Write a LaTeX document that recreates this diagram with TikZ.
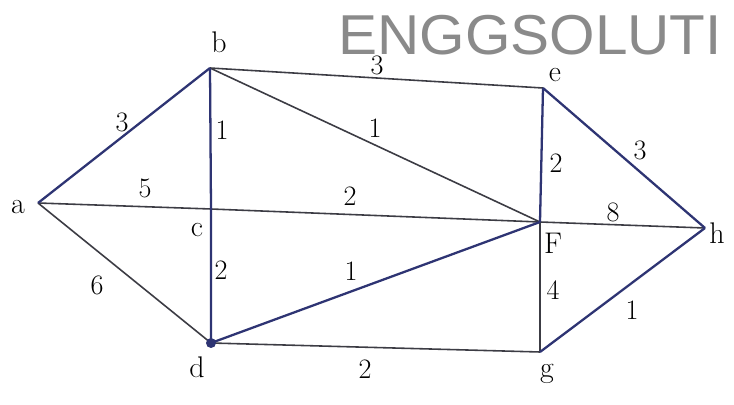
\documentclass[tikz,border=0pt]{standalone}
\usepackage{fontspec}
\newfontfamily\markfont{Liberation Sans}
\usetikzlibrary{positioning}
\definecolor{ink}{HTML}{2E3473}
\definecolor{pencil}{HTML}{3C3C44}
\definecolor{stamp}{HTML}{8A8A8A}
\tikzset{
  inkline/.style={draw=ink,line width=1.3pt},
  penline/.style={draw=pencil,line width=0.9pt},
  vname/.style={font=\fontsize{17}{19}\selectfont,text=black,inner sep=1pt},
  wt/.style={font=\fontsize{16}{18}\selectfont,text=black,inner sep=0.5pt}
}

\begin{document}
\begin{tikzpicture}[x=0.02cm,y=-0.02cm]
  \useasboundingbox[fill=white] (0,0) rectangle (734,405);
  \node[font=\markfont\fontsize{32}{34}\selectfont,text=stamp,anchor=base west,inner sep=0pt,xscale=1.04] (mark) at (338,55) {ENGGSOLUTI};

  \coordinate (a) at (38,203);
  \coordinate (b) at (210,68);
  \coordinate (c) at (211,209);
  \coordinate (d) at (211,343);
  \coordinate (e) at (543,88);
  \coordinate (F) at (540,222);
  \coordinate (g) at (540,352);
  \coordinate (h) at (705,228);

  \draw[penline] (a) -- (c) -- (F);
  \draw[penline] (a) -- (d);
  \draw[penline] (b) -- (e);
  \draw[penline] (b) -- (F);
  \draw[penline] (F) -- (h);
  \draw[penline] (d) -- (g);
  \draw[penline] (F) -- (g);
  \draw[inkline] (a) -- (b);
  \draw[inkline] (b) -- (c) -- (d);
  \draw[inkline] (d) -- (F);
  \draw[inkline] (e) -- (F);
  \draw[inkline] (e) -- (h);
  \draw[inkline] (g) -- (h);
  \fill[ink] (d) circle (5);

  \node[vname] (la) at (18,207) {a};
  \node[vname] (lb) at (219,42) {b};
  \node[vname] (lc) at (197,230) {c};
  \node[vname] (ld) at (197,367) {d};
  \node[vname] (le) at (555,75) {e};
  \node[vname] (lF) at (553,243) {F};
  \node[vname] (lg) at (547,374) {g};
  \node[vname] (lh) at (717,233) {h};

  \node[wt] (wab) at (122,122) {3};
  \node[wt] (wbc) at (222,130) {1};
  \node[wt] (wac) at (145,188) {5};
  \node[wt] (wcF) at (350,196) {2};
  \node[wt] (wad) at (97,285) {6};
  \node[wt] (wcd) at (221,270) {2};
  \node[wt] (wdF) at (351,271) {1};
  \node[wt] (wbF) at (375,128) {1};
  \node[wt] (wbe) at (377,65) {3};
  \node[wt] (weF) at (556,163) {2};
  \node[wt] (weh) at (640,150) {3};
  \node[wt] (wFh) at (613,212) {8};
  \node[wt] (wFg) at (553,290) {4};
  \node[wt] (wgh) at (632,310) {1};
  \node[wt] (wdg) at (365,369) {2};
\end{tikzpicture}
\end{document}
